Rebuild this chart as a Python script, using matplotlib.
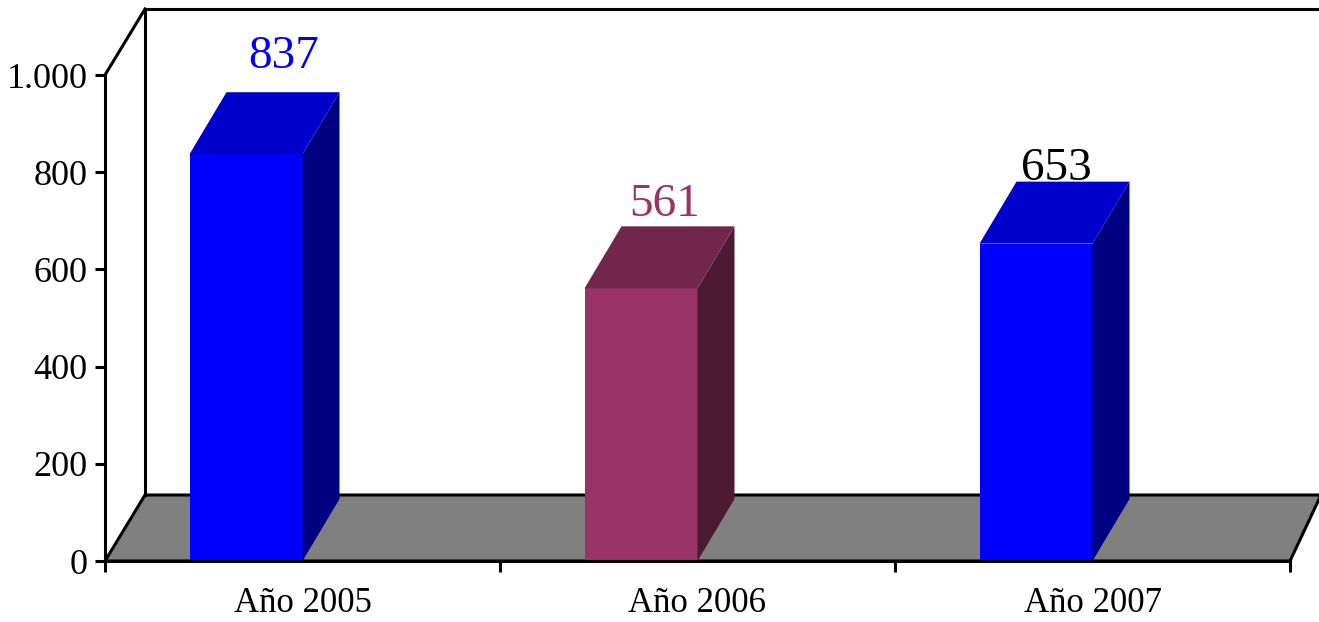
import matplotlib
matplotlib.use("Agg")
import matplotlib.pyplot as plt
from matplotlib.patches import Polygon
from matplotlib.lines import Line2D

# Data
categories = ["Año 2005", "Año 2006", "Año 2007"]
values = [837, 561, 653]
ytick_values = [0, 200, 400, 600, 800, 1000]
ytick_labels = ["0", "200", "400", "600", "800", "1.000"]

# Styles: (front, top, side) faces per bar and value-label colours
face_colors = [("#0000FF", "#0000CC", "#000080"),
               ("#993366", "#72264C", "#4C1A33"),
               ("#0000FF", "#0000CC", "#000080")]
label_colors = ["#0000FF", "#993366", "#000000"]
label_dx = [1, -13, -17]   # pixel nudges of the value labels
label_dy = [24, 10, 2]

W, H, DPI = 1319, 622, 100
fig = plt.figure(figsize=(W / DPI, H / DPI), dpi=DPI)
plt.rcParams["font.family"] = ["Liberation Serif", "DejaVu Serif"]

ax_l, ax_r, ax_b, ax_t = 105, 1290, 561, 75
ax = fig.add_axes([ax_l / W, (H - ax_b) / H, (ax_r - ax_l) / W, (ax_b - ax_t) / H])
ax.set_xlim(-0.5, len(categories) - 0.5)
ax.set_ylim(0, 1000)
ax.patch.set_alpha(0)

px_x = (len(categories)) / (ax_r - ax_l)      # data units per pixel (x)
px_y = 1000 / (ax_b - ax_t)                   # data units per pixel (y)

# oblique depth of walls / floor and of the bars
wdx, wdy = 40 * px_x, 66 * px_y
wdx_r = 31 * px_x
bdx, bdy = 37 * px_x, 62 * px_y
bar_w = 113 * px_x

lw = 2.2
x0, x1 = -0.5, len(categories) - 0.5

# floor
floor = Polygon([(x0, 0), (x1, 0), (x1 + wdx_r, wdy), (x0 + wdx, wdy)], closed=True,
                facecolor="#808080", edgecolor="black", lw=lw, clip_on=False,
                zorder=1, joinstyle="miter")
ax.add_patch(floor)

# back wall outline
ax.add_line(Line2D([x0 + wdx, x0 + wdx], [wdy, 1000 + wdy], color="black", lw=lw,
                   clip_on=False, zorder=1))
ax.add_line(Line2D([x0 + wdx, x1 + 1], [1000 + wdy, 1000 + wdy], color="black", lw=lw,
                   clip_on=False, zorder=1))
ax.add_line(Line2D([x0, x0 + wdx], [1000, 1000 + wdy], color="black", lw=lw,
                   clip_on=False, zorder=1))

# bars
for i, (v, (cf, ct, cs)) in enumerate(zip(values, face_colors)):
    left, right = i - bar_w, i
    front = Polygon([(left, 0), (right, 0), (right, v), (left, v)], closed=True,
                    facecolor=cf, edgecolor="none", zorder=2, clip_on=False)
    top = Polygon([(left, v), (right, v), (right + bdx, v + bdy), (left + bdx, v + bdy)],
                  closed=True, facecolor=ct, edgecolor="none", zorder=2, clip_on=False)
    side = Polygon([(right, 0), (right + bdx, bdy), (right + bdx, v + bdy), (right, v)],
                   closed=True, facecolor=cs, edgecolor="none", zorder=2, clip_on=False)
    for p in (front, side, top):
        ax.add_patch(p)
    ax.annotate(f"{v}", xy=((left + right) / 2 + bdx, v + bdy),
                xytext=(label_dx[i], label_dy[i]), textcoords="offset pixels",
                ha="center", va="baseline", fontsize=34, color=label_colors[i],
                annotation_clip=False, zorder=4)

# axes styling
for s in ("top", "right"):
    ax.spines[s].set_visible(False)
for s in ("left", "bottom"):
    ax.spines[s].set_linewidth(lw)
    ax.spines[s].set_zorder(3)

ax.set_yticks(ytick_values)
ax.set_yticklabels(ytick_labels)
ax.tick_params(axis="y", direction="out", length=7.5, width=lw, pad=5, labelsize=26)

ax.set_xticks([i - 0.5 for i in range(len(categories) + 1)])
ax.set_xticklabels([])
ax.set_xticks(range(len(categories)), minor=True)
ax.set_xticklabels(categories, minor=True)
ax.tick_params(axis="x", which="major", direction="out", length=8, width=lw)
ax.tick_params(axis="x", which="minor", length=0, pad=19, labelsize=25)

fig.savefig("out.png", dpi=DPI)
